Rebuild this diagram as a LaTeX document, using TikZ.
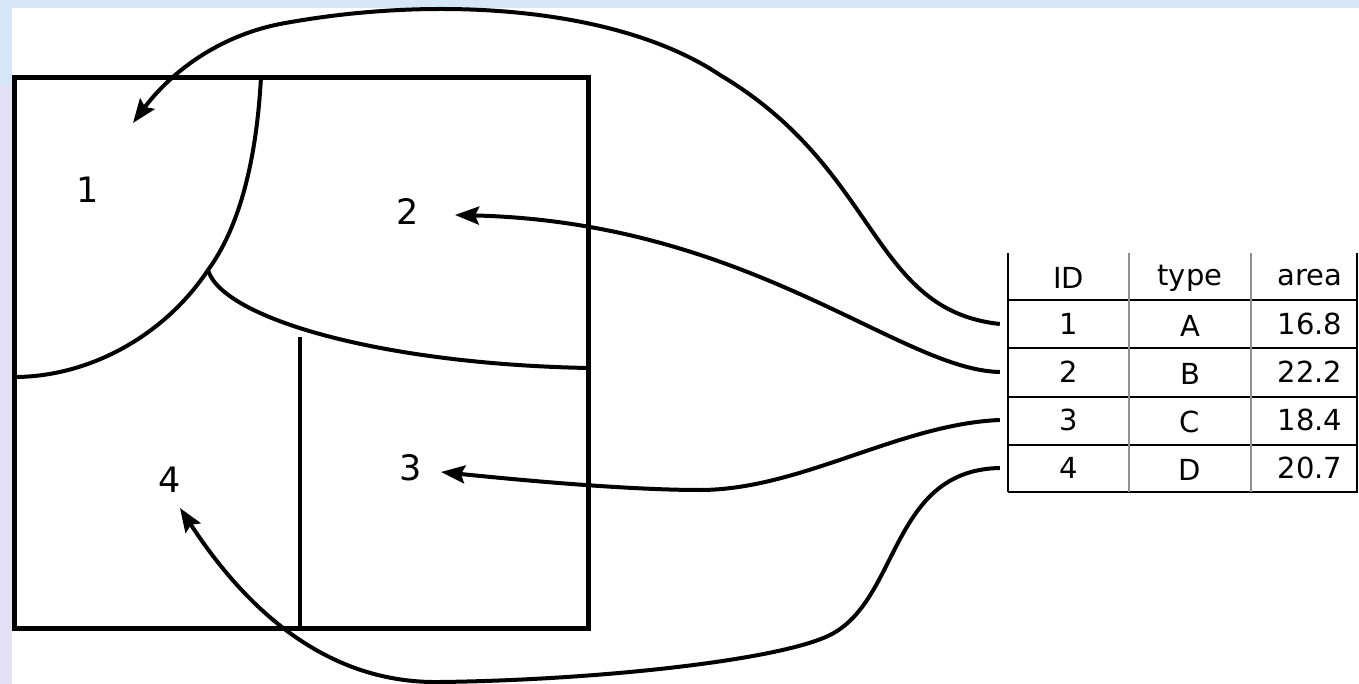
\documentclass[tikz,border=0pt]{standalone}
\usepackage{fontspec}
\setmainfont{DejaVu Sans}
\usetikzlibrary{arrows.meta}
\definecolor{bgblue}{HTML}{D5E7F6}
\definecolor{bglav}{HTML}{E3E0F6}
\definecolor{gridgray}{HTML}{909090}
\tikzset{
  region/.style={line width=5pt, line cap=rect},
  border/.style={line width=4pt},
  link/.style={line width=4pt, -{Stealth[length=24pt,width=18pt,inset=4pt]}},
  lbl/.style={font=\fontsize{35}{40}\selectfont, inner sep=0pt},
  cell/.style={font=\fontsize{29}{32}\selectfont, inner sep=0pt, minimum height=48pt},
  hline/.style={line width=2.4pt, black},
  vline/.style={line width=1.8pt, gridgray},
}
\begin{document}
\begin{tikzpicture}[x=1pt,y=-1pt]
\useasboundingbox (0,0) rectangle (1359,684);
% background
\fill[bgblue] (0,0) rectangle (1359,684);
\fill[bglav] (0,85) rectangle (12,684);
\fill[white] (12,8) rectangle (1359,684);

% map
\draw[region] (14.5,77.5) rectangle (588,628);
\draw[border] (261,77) .. controls (256,170) and (236,232) .. (208,270);
\draw[border] (208,270) .. controls (165,335) and (90,377) .. (14,377);
\draw[border] (208,270) .. controls (222,318) and (380,364) .. (588,368);
\draw[border] (300,337) -- (300,628);

% region labels
\node[lbl] (l1) at (88,190) {1};
\node[lbl] (l2) at (408,212) {2};
\node[lbl] (l3) at (411,468) {3};
\node[lbl] (l4) at (170,480) {4};

% targets
\coordinate (t1) at (133,123);
\coordinate (t2) at (455,215);
\coordinate (t3) at (441,472);
\coordinate (t4) at (180,508);

% table cells
\node[cell, minimum width=121pt] (hid) at (1068.5,278) {ID};
\node[cell, minimum width=122pt] (hty) at (1190,278) {type};
\node[cell, minimum width=106pt] (har) at (1310,278) {area};
\node[cell, minimum width=121pt] (id1) at (1068.5,324) {1};
\node[cell, minimum width=122pt] (ty1) at (1190,326) {A};
\node[cell] (ar1) at (1310,324) {16.8};
\node[cell, minimum width=121pt] (id2) at (1068.5,372) {2};
\node[cell, minimum width=122pt] (ty2) at (1190,374) {B};
\node[cell] (ar2) at (1310,372) {22.2};
\node[cell, minimum width=121pt] (id3) at (1068.5,420) {3};
\node[cell, minimum width=122pt] (ty3) at (1190,422) {C};
\node[cell] (ar3) at (1310,420) {18.4};
\node[cell, minimum width=121pt] (id4) at (1068.5,468) {4};
\node[cell, minimum width=122pt] (ty4) at (1190,470) {D};
\node[cell] (ar4) at (1310,468) {20.7};

% table grid
\draw[hline] (1008,300) -- (1358,300);
\draw[hline] (1008,348) -- (1358,348);
\draw[hline] (1008,397) -- (1358,397);
\draw[hline] (1008,445) -- (1358,445);
\draw[hline] (1008,492) -- (1358,492);
\draw[vline] (1129,253) -- (1129,492);
\draw[vline] (1251,253) -- (1251,492);
\draw[hline] (1008,253) -- (1008,492);
\draw[hline] (1357,253) -- (1357,492);

% connectors
\draw[link] ([xshift=-8pt]id1.west) .. controls (870,310) and (880,170) .. (720,75)
  .. controls (620,8) and (440,-6) .. (280,24)
  .. controls (210,38) and (165,80) .. (t1);
\draw[link] ([xshift=-8pt]id2.west) .. controls (900,370) and (750,222) .. (t2);
\draw[link] ([xshift=-8pt]id3.west) .. controls (900,424) and (800,490) .. (700,490)
  .. controls (620,490) and (500,478) .. (t3);
\draw[link] ([xshift=-8pt]id4.west) .. controls (890,470) and (900,600) .. (830,635)
  .. controls (780,660) and (600,680) .. (440,682)
  .. controls (320,684) and (240,600) .. (t4);
\end{tikzpicture}
\end{document}
